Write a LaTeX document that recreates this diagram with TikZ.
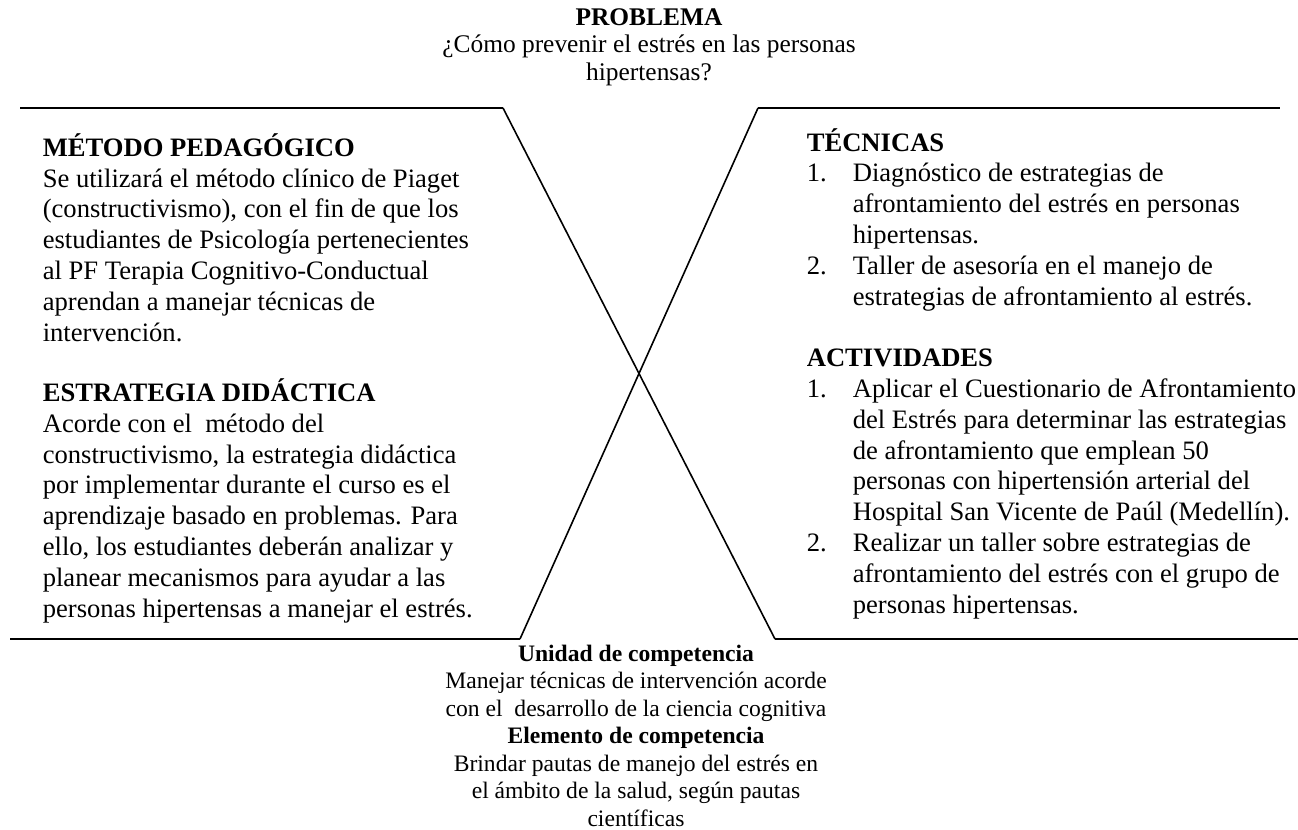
\documentclass[tikz,border=0pt]{standalone}
\usepackage{fontspec}
\setmainfont{Liberation Serif}
\newfontface\hdfont{Liberation Serif Bold}
\newcommand{\hd}[1]{{\hdfont #1}}
\newcommand{\numit}[1]{\makebox[23pt][l]{#1}}
\newcommand{\contit}{\hspace*{23pt}}
\tikzset{
  every picture/.style={line width=0.8pt},
  block/.style={align=left, inner sep=0pt, anchor=base west, font=\fontsize{13.3}{15.4}\selectfont},
  midblock/.style={align=center, inner sep=0pt, anchor=base, font=\fontsize{#1}{13.75}\selectfont},
  midblock/.default=12,
  rule/.style={line width=1pt},
}
\begin{document}
\begin{tikzpicture}[x=0.5pt, y=-0.5pt]
  \useasboundingbox (0,0) rectangle (1298,830);
  % the problem on top (base = last line)
  \node[midblock=12.7] (problema) at (649,80) {\hd{PROBLEMA}\\ ¿Cómo prevenir el estrés en las personas\\ hipertensas?};
  % corners of the V
  \coordinate (tl) at (20,108);
  \coordinate (tlc) at (503,108);
  \coordinate (trc) at (758,108);
  \coordinate (tr) at (1280,108);
  \coordinate (bl) at (10,639);
  \coordinate (blc) at (520,639);
  \coordinate (brc) at (775,639);
  \coordinate (br) at (1298,639);
  \draw[rule] (tl) -- (tlc);
  \draw[rule] (trc) -- (tr);
  \draw[rule] (bl) -- (blc);
  \draw[rule] (brc) -- (br);
  \draw (tlc) -- (brc);
  \draw (trc) -- (blc);
  % left side
  \node[block] (metodo) at (42,341) {\hd{MÉTODO PEDAGÓGICO}\\
    Se utilizará el método clínico de Piaget\\
    (constructivismo), con el fin de que los\\
    estudiantes de Psicología pertenecientes\\
    al PF Terapia Cognitivo-Conductual\\
    aprendan a manejar técnicas de\\
    intervención.};
  \node[block] (estrategia) at (42,617) {\hd{ESTRATEGIA DIDÁCTICA}\\
    Acorde con el\ \ método del\\
    constructivismo, la estrategia didáctica\\
    por implementar durante el curso es el\\
    aprendizaje basado en problemas. Para\\
    ello, los estudiantes deberán analizar y\\
    planear mecanismos para ayudar a las\\
    personas hipertensas a manejar el estrés.};
  % right side
  \node[block] (tecnicas) at (806,305) {\hd{TÉCNICAS}\\
    \numit{1.}Diagnóstico de estrategias de\\
    \contit afrontamiento del estrés en personas\\
    \contit hipertensas.\\
    \numit{2.}Taller de asesoría en el manejo de\\
    \contit estrategias de afrontamiento al estrés.};
  \node[block] (actividades) at (806,613) {\hd{ACTIVIDADES}\\
    \numit{1.}Aplicar el Cuestionario de Afrontamiento\\
    \contit del Estrés para determinar las estrategias\\
    \contit de afrontamiento que emplean 50\\
    \contit personas con hipertensión arterial del\\
    \contit Hospital San Vicente de Paúl (Medellín).\\
    \numit{2.}Realizar un taller sobre estrategias de\\
    \contit afrontamiento del estrés con el grupo de\\
    \contit personas hipertensas.};
  % competence at the bottom
  \node[midblock=11.8] (competencia) at (636,826) {\hd{Unidad de competencia}\\
    Manejar técnicas de intervención acorde\\
    con el\ \ desarrollo de la ciencia cognitiva\\
    \hd{Elemento de competencia}\\
    Brindar pautas de manejo del estrés en\\
    el ámbito de la salud, según pautas\\
    científicas};
\end{tikzpicture}
\end{document}
